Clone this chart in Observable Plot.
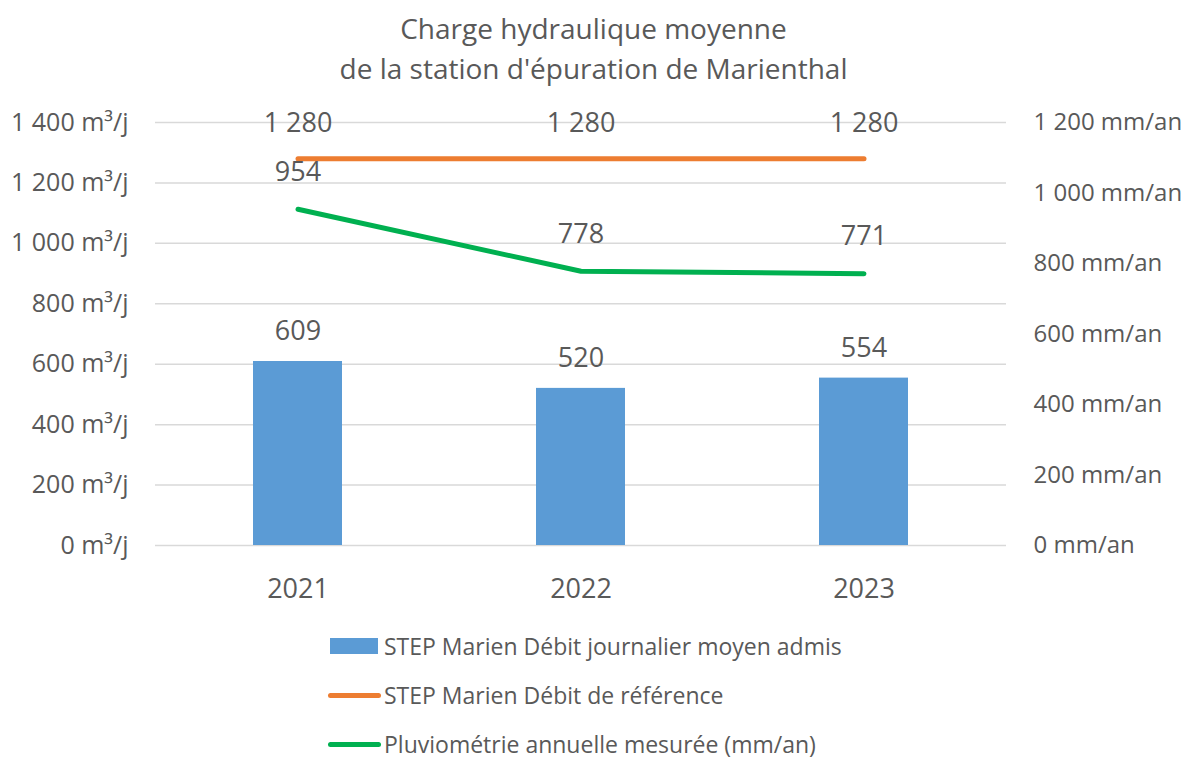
<!DOCTYPE html>
<html>
<head>
<meta charset="utf-8">
<script src="https://cdn.jsdelivr.net/npm/d3@7"></script>
<script src="https://cdn.jsdelivr.net/npm/@observablehq/plot@0.6"></script>
<style>
  html, body { margin: 0; padding: 0; background: #fff; }
  body { width: 1187px; height: 758px; overflow: hidden; font-family: "Open Sans", sans-serif; color: #595959; }
  #title { height: 88px; padding-top: 8px; box-sizing: border-box; text-align: center; font-size: 28px; line-height: 40px; }
  #chart svg { display: block; }
  #legend { position: relative; height: 140px; }
  .item { position: absolute; left: 0; height: 24px; line-height: 24px; font-size: 23px; white-space: nowrap; }
  .sw { position: absolute; }
  .lbl { position: absolute; left: 384px; top: 0; height: 24px; line-height: 24px; }
</style>
</head>
<body>
<div id="title">Charge hydraulique moyenne<br>de la station d'épuration de Marienthal</div>
<div id="chart"></div>
<div id="legend"></div>
<script>
const years = ["2021", "2022", "2023"];
const debitAdmis = [609, 520, 554];
const debitReference = [1280, 1280, 1280];
const pluviometrie = [954, 778, 771];
const leftTicks = [0, 200, 400, 600, 800, 1000, 1200, 1400];
const rightTicks = [0, 200, 400, 600, 800, 1000, 1200];
const leftMax = 1400;
const rightMax = 1200;
const seriesNames = [
  "STEP Marien Débit journalier moyen admis",
  "STEP Marien Débit de référence",
  "Pluviométrie annuelle mesurée (mm/an)"
];
const seriesColors = ["#5b9bd5", "#ed7d31", "#00b050"];

const fmt = n => d3.format(",")(n).replace(/,/g, " ");
const toLeft = v => v * leftMax / rightMax;

const data = years.map((y, i) => ({
  year: y,
  admis: debitAdmis[i],
  ref: debitReference[i],
  pluvio: pluviometrie[i],
  pluvioLeft: toLeft(pluviometrie[i])
}));

const textColor = "#595959";

const chart = Plot.plot({
  width: 1187,
  height: 530,
  marginLeft: 155,
  marginRight: 181,
  marginTop: 34,
  marginBottom: 73,
  style: { fontFamily: "Open Sans", color: textColor, background: "white" },
  x: { type: "band", domain: years, padding: 0 },
  y: { domain: [0, leftMax] },
  marks: [
    Plot.gridY(leftTicks, { stroke: "#d9d9d9", strokeOpacity: 1, strokeWidth: 1.5 }),
    Plot.barY(data, { x: "year", y: "admis", fill: seriesColors[0], insetLeft: 97, insetRight: 97 }),
    Plot.line(data, { x: "year", y: "ref", stroke: seriesColors[1], strokeWidth: 5 }),
    Plot.line(data, { x: "year", y: "pluvioLeft", stroke: seriesColors[2], strokeWidth: 5 }),
    Plot.text(data, { x: "year", y: "admis", text: d => fmt(d.admis), dy: -30, fontSize: 27, fill: textColor }),
    Plot.text(data, { x: "year", y: "ref", text: d => fmt(d.ref), dy: -35, fontSize: 27, fill: textColor }),
    Plot.text(data, { x: "year", y: "pluvioLeft", text: d => fmt(d.pluvio), dy: -37, fontSize: 27, fill: textColor }),
    Plot.axisY({ anchor: "left", ticks: leftTicks, tickSize: 0, tickPadding: 27, fontSize: 25,
      tickFormat: d => fmt(d) + " m³/j", label: null, fill: textColor }),
    Plot.axisY({ anchor: "right", ticks: rightTicks.map(toLeft), tickSize: 0, tickPadding: 27, fontSize: 24,
      tickFormat: d => fmt(Math.round(d * rightMax / leftMax)) + " mm/an", label: null, fill: textColor }),
    Plot.axisX({ anchor: "bottom", tickSize: 0, tickPadding: 33, fontSize: 27, label: null, fill: textColor })
  ]
});
document.getElementById("chart").appendChild(chart);

// Legend
const legend = document.getElementById("legend");
const centers = [28, 77, 126];
seriesNames.forEach((name, i) => {
  const item = document.createElement("div");
  item.className = "item";
  item.style.top = (centers[i] - 12) + "px";
  item.style.width = "1187px";
  const sw = document.createElement("div");
  sw.className = "sw";
  if (i === 0) {
    sw.style.left = "330px"; sw.style.top = "4px"; sw.style.width = "48px"; sw.style.height = "16px";
  } else {
    sw.style.left = "328px"; sw.style.top = "10px"; sw.style.width = "53px"; sw.style.height = "5px";
    sw.style.borderRadius = "3px";
  }
  sw.style.background = seriesColors[i];
  const lbl = document.createElement("span");
  lbl.className = "lbl";
  lbl.textContent = name;
  item.appendChild(sw);
  item.appendChild(lbl);
  legend.appendChild(item);
});
</script>
</body>
</html>
